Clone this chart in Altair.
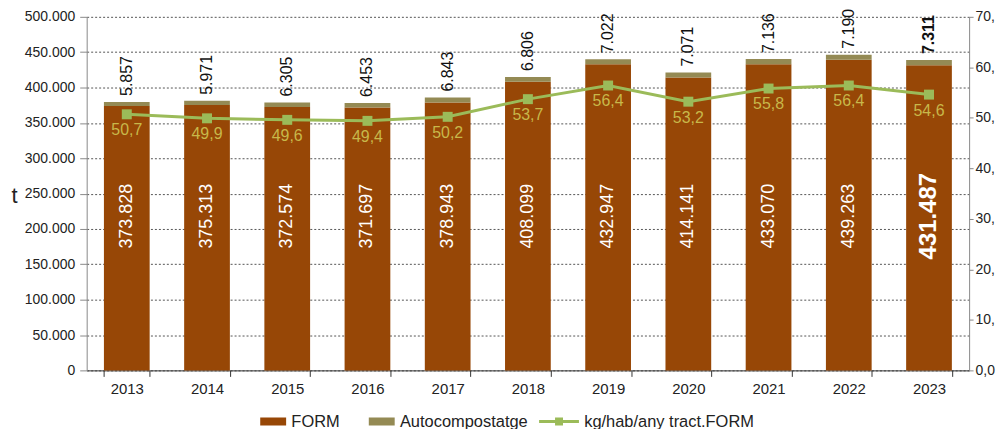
import altair as alt
import pandas as pd

years = ["2013", "2014", "2015", "2016", "2017", "2018", "2019", "2020", "2021", "2022", "2023"]
form = [373828, 375313, 372574, 371697, 378943, 408099, 432947, 414141, 433070, 439263, 431487]
auto = [5857, 5971, 6305, 6453, 6843, 6806, 7022, 7071, 7136, 7190, 7311]
kg = [50.7, 49.9, 49.6, 49.4, 50.2, 53.7, 56.4, 53.2, 55.8, 56.4, 54.6]
series = ["FORM", "Autocompostatge", "kg/hab/any tract.FORM"]
colors = ["#974706", "#948A54", "#9BBB59"]
left_ticks = [0, 50000, 100000, 150000, 200000, 250000, 300000, 350000, 400000, 450000, 500000]
right_ticks = [0, 10, 20, 30, 40, 50, 60, 70]

FONT = "Liberation Sans"

df = pd.DataFrame({"year": years, "form": form, "auto": auto, "kg": kg})
df["total"] = df["form"] + df["auto"]
df["form_lbl"] = [f"{v:,}".replace(",", ".") for v in form]
df["auto_lbl"] = [f"{v:,}".replace(",", ".") for v in auto]
df["kg_lbl"] = [f"{v:.1f}".replace(".", ",") for v in kg]
df["last"] = [y == years[-1] for y in years]

base = alt.Chart(df)

x_enc = alt.X(
    "year:N",
    scale=alt.Scale(paddingInner=0.43, paddingOuter=0.215),
    axis=alt.Axis(
        title=None, labelAngle=0, tickBand="extent", labelFont=FONT, labelFontSize=15,
        labelColor="#222", domainColor="#333", tickColor="#333", tickSize=6, labelPadding=5,
        grid=False,
    ),
)

left_scale = alt.Scale(domain=[0, 500000], nice=False, zero=True)
left_axis = alt.Axis(
    values=left_ticks,
    labelExpr="replace(format(datum.value, ','), ',', '.')",
    title="t", titleAngle=0, titleFont=FONT, titleFontSize=22, titleFontWeight="normal",
    titleColor="#222", titleX=-73, titleY=179, titleAlign="center", titleBaseline="middle",
    labelFont=FONT, labelFontSize=14, labelColor="#222", labelPadding=5,
    domainColor="#888", tickColor="#888", tickSize=7,
    grid=True, gridColor="#555", gridDash=[2, 2], gridWidth=1,
)

bar_form = base.mark_bar(color=colors[0]).encode(
    x=x_enc, y=alt.Y("form:Q", scale=left_scale, axis=left_axis)
)
bar_auto = base.mark_bar(color=colors[1]).encode(
    x=x_enc, y=alt.Y("form:Q", scale=left_scale, axis=left_axis), y2="total:Q"
)

form_txt = base.transform_filter("!datum.last").mark_text(
    angle=270, align="center", baseline="middle", color="white", font=FONT, fontSize=18
).encode(x=x_enc, y=alt.Y(datum=218000, scale=left_scale, axis=left_axis), text="form_lbl:N")
form_txt_last = base.transform_filter("datum.last").mark_text(
    angle=270, align="center", baseline="middle", color="white", font=FONT, fontSize=24,
    fontWeight="bold"
).encode(x=x_enc, y=alt.Y(datum=218000, scale=left_scale, axis=left_axis), text="form_lbl:N")

auto_txt = base.transform_filter("!datum.last").mark_text(
    angle=270, align="left", baseline="middle", color="#111", font=FONT, fontSize=16, dx=6
).encode(x=x_enc, y=alt.Y("total:Q", scale=left_scale, axis=left_axis), text="auto_lbl:N")
auto_txt_last = base.transform_filter("datum.last").mark_text(
    angle=270, align="left", baseline="middle", color="#111", font=FONT, fontSize=16, dx=6,
    fontWeight="bold"
).encode(x=x_enc, y=alt.Y("total:Q", scale=left_scale, axis=left_axis), text="auto_lbl:N")

# legend-only layer (custom symbols: swatches for bars, line+square for the line)
rect_path = "M-7.6,0Z M-4.2,-0.8H1V0.8H-4.2Z"
line_path = "M-7,-0.3H1V0.3H-7Z M-3.8,-0.8H-2.2V0.8H-3.8Z"
leg = alt.Legend(
    title=None, orient="none", legendX=187, legendY=398, direction="horizontal",
    symbolSize=100, symbolOpacity=1, symbolStrokeWidth=0, labelFont=FONT, labelFontSize=16.5,
    labelColor="#222", labelOffset=2, columnPadding=11, labelLimit=400,
)
legend_df = pd.DataFrame({"serie": series})
legend_layer = alt.Chart(legend_df).mark_point(filled=True, opacity=0).encode(
    color=alt.Color("serie:N", scale=alt.Scale(domain=series, range=colors), legend=leg),
    shape=alt.Shape("serie:N", scale=alt.Scale(domain=series, range=[rect_path, rect_path, line_path]), legend=leg),
)

left = alt.layer(bar_form, bar_auto, form_txt, form_txt_last, auto_txt, auto_txt_last, legend_layer)

right_scale = alt.Scale(domain=[0, 70], nice=False, zero=True)
right_axis = alt.Axis(
    orient="right", values=right_ticks,
    labelExpr="datum.value == 0 ? '0,0' : datum.value + ','",
    title=None, labelFont=FONT, labelFontSize=14, labelColor="#222", labelPadding=2,
    domainColor="#888", tickColor="#888", tickSize=4, grid=False,
)
y_right = alt.Y("kg:Q", scale=right_scale, axis=right_axis)

line = base.mark_line(color=colors[2], strokeWidth=3).encode(x=x_enc, y=y_right)
pts = base.mark_point(shape="square", filled=True, size=100, opacity=1, color=colors[2]).encode(
    x=x_enc, y=y_right
)
kg_txt = base.mark_text(
    align="center", baseline="middle", dy=16, color="#C8B84A", font=FONT, fontSize=16
).encode(x=x_enc, y=y_right, text="kg_lbl:N")

right = alt.layer(line, pts, kg_txt)

chart = alt.layer(left, right).resolve_scale(y="independent").properties(
    width=886, height=355,
    padding={"left": 79, "top": 8, "right": 28, "bottom": 58},
    autosize=alt.AutoSizeParams(type="none"),
    background="white",
).configure_view(strokeWidth=0)

chart.save("out.html", embed_options={"renderer": "svg", "actions": False})
